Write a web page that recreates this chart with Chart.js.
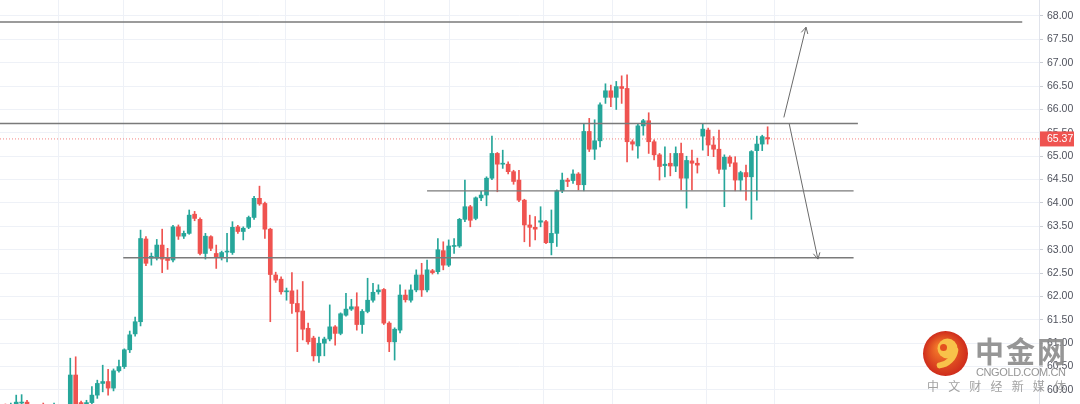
<!DOCTYPE html>
<html>
<head>
<meta charset="utf-8">
<script src="https://cdn.jsdelivr.net/npm/chart.js@4.4.1/dist/chart.umd.min.js"></script>
<style>
  html, body { margin: 0; padding: 0; background: #fff; }
  #wrap { width: 1080px; height: 404px; }
</style>
</head>
<body>
<div id="wrap"><canvas id="priceChart" width="1080" height="404"></canvas></div>
<script>
// candles, oldest first
const opens = [
  59.55, 59.62, 59.55, 59.62, 59.72, 59.74, 59.60, 59.45, 59.60, 59.50, 59.45, 59.60, 59.50, 59.60, 60.32, 59.73, 59.65, 59.73, 59.89, 60.14,
  60.18, 60.04, 60.41, 60.50, 60.86, 61.20, 61.46, 63.23, 62.82, 62.82, 63.10, 62.82, 62.78, 63.49, 63.29, 63.35, 63.76, 63.65, 62.92, 63.28,
  62.92, 62.84, 62.95, 62.94, 63.49, 63.39, 63.48, 63.69, 64.10, 63.99, 63.44, 62.46, 62.37, 62.10, 62.12, 61.85, 61.69, 61.32, 61.11, 60.73,
  61.00, 61.09, 61.35, 61.21, 61.60, 61.73, 61.78, 61.40, 61.68, 61.92, 62.10, 62.15, 61.43, 61.03, 61.28, 62.03, 61.92, 62.14, 62.46, 62.14,
  62.55, 62.53, 62.98, 62.67, 63.07, 63.08, 63.65, 63.92, 63.67, 64.11, 64.17, 64.53, 65.06, 64.83, 64.83, 64.67, 64.49, 64.06, 63.53, 63.48,
  63.59, 63.60, 63.15, 63.35, 64.26, 64.49, 64.48, 64.62, 64.39, 65.53, 65.15, 65.33, 66.26, 66.40, 66.26, 66.49, 66.45, 65.31, 65.22, 65.65,
  65.76, 65.31, 65.03, 64.80, 64.85, 64.79, 65.06, 64.53, 64.90, 64.85, 65.43, 65.56, 65.24, 65.15, 64.72, 64.98, 64.86, 64.49, 64.65, 64.56,
  65.12, 65.26, 65.40
];
const highs = [
  59.65, 59.70, 59.72, 59.89, 59.90, 59.78, 59.65, 59.60, 59.72, 59.62, 59.72, 59.68, 59.65, 60.68, 60.71, 59.76, 59.78, 60.07, 60.21, 60.53,
  60.44, 60.45, 60.64, 60.88, 61.26, 61.56, 63.42, 63.28, 62.93, 63.22, 63.44, 63.03, 63.52, 63.53, 63.40, 63.85, 63.82, 63.68, 63.35, 63.30,
  63.10, 62.97, 63.35, 63.60, 63.52, 63.49, 63.72, 64.14, 64.36, 64.02, 63.46, 62.52, 62.42, 62.18, 62.51, 62.14, 62.32, 61.43, 61.15, 61.13,
  61.13, 61.82, 61.38, 61.65, 62.07, 61.94, 62.08, 61.72, 62.39, 62.28, 62.25, 62.17, 61.46, 61.33, 62.25, 62.14, 62.25, 62.57, 62.71, 62.78,
  62.58, 63.24, 63.17, 63.21, 63.24, 63.67, 64.49, 63.95, 64.13, 64.25, 64.56, 65.43, 65.08, 65.13, 64.88, 64.70, 64.70, 64.08, 63.74, 63.71,
  63.92, 63.63, 63.85, 64.28, 64.64, 64.53, 64.71, 64.65, 65.70, 65.81, 65.78, 66.14, 66.55, 66.52, 66.60, 66.72, 66.74, 65.35, 65.68, 65.79,
  65.93, 65.35, 65.06, 65.20, 65.06, 65.20, 65.28, 65.00, 65.13, 64.96, 65.70, 65.60, 65.42, 65.56, 65.03, 65.01, 64.99, 64.68, 64.81, 65.12,
  65.43, 65.45, 65.63
];
const lows = [
  59.40, 59.45, 59.45, 59.50, 59.60, 59.50, 59.40, 59.30, 59.35, 59.30, 59.35, 59.40, 59.30, 59.50, 59.50, 59.50, 59.55, 59.65, 59.82, 59.96,
  59.89, 59.98, 60.38, 60.46, 60.80, 61.15, 61.37, 62.66, 62.67, 62.78, 62.51, 62.58, 62.74, 63.22, 63.24, 63.33, 63.62, 62.89, 62.80, 62.98,
  62.60, 62.78, 62.74, 62.90, 63.35, 63.21, 63.45, 63.65, 63.95, 63.24, 61.46, 62.30, 62.05, 61.92, 61.64, 60.82, 61.07, 60.98, 60.62, 60.59,
  60.73, 61.05, 60.96, 61.18, 61.58, 61.70, 61.28, 61.21, 61.65, 61.88, 62.05, 61.40, 60.82, 60.64, 61.22, 61.88, 61.88, 62.10, 62.00, 62.10,
  62.48, 62.48, 62.57, 62.64, 62.92, 63.05, 63.60, 63.49, 63.64, 64.05, 63.94, 64.50, 64.24, 64.74, 64.62, 64.40, 64.03, 63.17, 63.07, 63.21,
  63.49, 63.13, 62.89, 63.07, 64.22, 64.35, 64.42, 64.28, 64.26, 65.10, 64.93, 65.20, 66.13, 66.06, 66.00, 66.13, 64.88, 65.13, 64.96, 65.45,
  65.06, 64.92, 64.49, 64.56, 64.58, 64.67, 64.28, 63.89, 64.28, 64.64, 65.13, 65.01, 64.99, 64.63, 63.92, 64.78, 64.26, 64.26, 64.06, 63.65,
  64.06, 65.12, 65.26
];
const closes = [
  59.60, 59.50, 59.66, 59.74, 59.74, 59.60, 59.45, 59.50, 59.50, 59.40, 59.60, 59.50, 59.60, 60.32, 59.65, 59.60, 59.73, 59.89, 60.14, 60.18,
  60.04, 60.41, 60.50, 60.86, 61.18, 61.46, 63.24, 62.71, 62.86, 63.10, 62.80, 62.77, 63.49, 63.29, 63.35, 63.74, 63.67, 62.92, 63.29, 63.03,
  62.84, 62.94, 62.97, 63.48, 63.39, 63.46, 63.69, 64.10, 63.98, 63.44, 62.47, 62.35, 62.10, 62.12, 61.85, 61.67, 61.30, 61.03, 60.73, 61.00,
  61.09, 61.35, 61.21, 61.63, 61.73, 61.78, 61.40, 61.68, 61.92, 62.09, 62.14, 61.43, 61.03, 61.30, 62.03, 61.93, 62.14, 62.46, 62.14, 62.57,
  62.51, 63.00, 62.67, 63.08, 63.09, 63.65, 63.92, 63.63, 64.11, 64.17, 64.53, 65.06, 64.83, 64.85, 64.67, 64.46, 64.06, 63.53, 63.48, 63.44,
  63.62, 63.15, 63.35, 64.26, 64.49, 64.46, 64.62, 64.39, 65.53, 65.15, 65.33, 66.10, 66.40, 66.26, 66.49, 66.45, 65.31, 65.26, 65.65, 65.76,
  65.31, 65.03, 64.78, 64.83, 64.79, 65.06, 64.53, 64.91, 64.85, 64.81, 65.58, 65.24, 65.15, 64.72, 64.98, 64.85, 64.49, 64.65, 64.56, 65.10,
  65.26, 65.42, 65.37
];

// drawn support / resistance levels (price, first bar, last bar)
const levelPrices = [67.87, 65.70, 64.26, 62.83];
const levelFrom = [0, 0, 79.0, 22.8];
const levelTo = [189.1, 158.7, 157.9, 157.9];

// projection arrows, [bar, price] start -> end
const arrowUp = [[145.0, 65.83], [149.1, 67.76]];
const arrowDown = [[146.0, 65.69], [151.3, 62.80]];

const lastPrice = 65.37;
// day separators on the time axis (bar positions)
const timeDividers = [10.8, 22.8, 41.0, 52.8, 71.0, 83.0, 100.5, 113.3, 130.6, 143.2];

const UP = '#26a69a';
const DOWN = '#ef5350';
const GRID = '#eef1f7';
const X_MAX = 192.2;

const idx = opens.map((_, i) => i);
const candleColors = idx.map(i => closes[i] >= opens[i] ? UP : DOWN);
const wickData = idx.map(i => ({ x: i, y: [lows[i], highs[i]] }));
const bodyData = idx.map(i => ({ x: i, y: [Math.min(opens[i], closes[i]), Math.max(opens[i], closes[i])] }));

const levelSets = levelPrices.map((p, k) => ({
    type: 'line',
    data: [{ x: levelFrom[k], y: p }, { x: levelTo[k], y: p }],
    borderColor: '#7a7a7a',
    borderWidth: 1.4,
    pointRadius: 0,
    order: 0
}));

const arrowSets = [arrowUp, arrowDown].map(a => ({
    type: 'line',
    isArrow: true,
    data: a.map(p => ({ x: p[0], y: p[1] })),
    borderColor: '#6a6a6a',
    borderWidth: 1,
    pointRadius: 0,
    order: 0
}));

// vertical time separators, placed through the x scale
const timeGrid = {
    id: 'timeGrid',
    beforeDatasetsDraw(chart) {
        const ctx = chart.ctx;
        const xs = chart.scales.x;
        const area = chart.chartArea;
        ctx.save();
        ctx.strokeStyle = GRID;
        ctx.lineWidth = 1;
        ctx.beginPath();
        timeDividers.forEach(v => {
            const px = Math.round(xs.getPixelForValue(v)) + 0.5;
            ctx.moveTo(px, area.top);
            ctx.lineTo(px, area.bottom);
        });
        ctx.stroke();
        ctx.restore();
    }
};

// arrow heads at the end of each arrow line
const arrowHeads = {
    id: 'arrowHeads',
    afterDatasetsDraw(chart) {
        const ctx = chart.ctx;
        chart.data.datasets.forEach((ds, i) => {
            if (!ds.isArrow) return;
            const pts = chart.getDatasetMeta(i).data;
            const a = pts[pts.length - 2], b = pts[pts.length - 1];
            const ang = Math.atan2(b.y - a.y, b.x - a.x);
            ctx.save();
            ctx.strokeStyle = ds.borderColor;
            ctx.lineWidth = 1;
            ctx.beginPath();
            [-1, 1].forEach(s => {
                ctx.moveTo(b.x, b.y);
                ctx.lineTo(b.x - 7 * Math.cos(ang + s * 0.5), b.y - 7 * Math.sin(ang + s * 0.5));
            });
            ctx.stroke();
            ctx.restore();
        });
    }
};

function drawSpaced(ctx, text, xL, xR, y) {
    const chars = Array.from(text);
    const widths = chars.map(c => ctx.measureText(c).width);
    const total = widths.reduce((s, w) => s + w, 0);
    const gap = chars.length > 1 ? (xR - xL - total) / (chars.length - 1) : 0;
    let x = xL;
    chars.forEach((c, i) => {
        ctx.fillText(c, x, y);
        x += widths[i] + gap;
    });
}

// last price tag on the axis + site watermark
const overlay = {
    id: 'overlay',
    afterDraw(chart) {
        const ctx = chart.ctx;
        const yScale = chart.scales.y;
        const area = chart.chartArea;
        const py = yScale.getPixelForValue(lastPrice);

        ctx.save();
        ctx.fillStyle = DOWN;
        ctx.fillRect(area.right + 1, py - 7.5, 34, 15);
        ctx.fillStyle = '#fff';
        ctx.font = '10.5px "Liberation Sans", Arial, sans-serif';
        ctx.textBaseline = 'middle';
        ctx.fillText(lastPrice.toFixed(2), area.right + 8, py + 0.5);

        // logo
        const cx = 945.5, cy = 353.5, r = 22.5;
        const g = ctx.createRadialGradient(cx - 5, cy - 6, 3, cx, cy, r);
        g.addColorStop(0, '#f47a2a');
        g.addColorStop(1, '#cf2c1c');
        ctx.fillStyle = g;
        ctx.beginPath();
        ctx.arc(cx, cy, r, 0, Math.PI * 2);
        ctx.fill();
        ctx.fillStyle = '#f8c24a';
        ctx.beginPath();
        ctx.arc(cx + 2, cy - 5, 10, 0, Math.PI * 2);
        ctx.fill();
        ctx.strokeStyle = '#f8c24a';
        ctx.lineWidth = 6;
        ctx.lineCap = 'round';
        ctx.beginPath();
        ctx.arc(cx - 8, cy - 6, 18, 0.15, 1.45);
        ctx.stroke();
        ctx.fillStyle = '#e4511f';
        ctx.beginPath();
        ctx.arc(cx - 2, cy - 6, 3.5, 0, Math.PI * 2);
        ctx.fill();

        ctx.globalAlpha = 0.92;
        ctx.fillStyle = '#8d8d8d';
        ctx.textBaseline = 'middle';
        ctx.font = 'bold 29px "Noto Sans CJK SC", sans-serif';
        drawSpaced(ctx, '中金网', 975, 1066, 352);
        ctx.font = '11px "Liberation Sans", Arial, sans-serif';
        drawSpaced(ctx, 'CNGOLD.COM.CN', 976, 1066, 373);
        ctx.fillStyle = '#999';
        ctx.font = '12px "Noto Sans CJK SC", sans-serif';
        drawSpaced(ctx, '中文财经新媒体', 927, 1066, 386.5);
        ctx.restore();
    }
};

new Chart(document.getElementById('priceChart'), {
    type: 'bar',
    data: {
        datasets: [
            {
                type: 'line',
                data: [{ x: 0, y: lastPrice }, { x: X_MAX, y: lastPrice }],
                borderColor: 'rgba(239,83,80,0.7)',
                borderWidth: 1,
                borderDash: [1, 2],
                pointRadius: 0,
                order: 3
            },
            {
                data: wickData,
                backgroundColor: candleColors,
                barThickness: 1,
                grouped: false,
                order: 2
            },
            {
                data: bodyData,
                backgroundColor: candleColors,
                barThickness: 4,
                minBarLength: 1,
                grouped: false,
                order: 1
            },
            ...levelSets,
            ...arrowSets
        ]
    },
    options: {
        responsive: false,
        animation: false,
        layout: { padding: 0 },
        plugins: { legend: { display: false }, tooltip: { enabled: false } },
        scales: {
            x: {
                type: 'linear',
                min: 0,
                max: X_MAX,
                offset: false,
                grid: { display: false, drawTicks: false },
                border: { display: false },
                ticks: { display: false },
                afterFit: s => { s.height = 0; s.paddingLeft = 0; s.paddingRight = 0; }
            },
            y: {
                position: 'right',
                min: 59.70,
                max: 68.342,
                grid: { color: GRID, tickColor: '#c9ccd3', tickLength: 4 },
                border: { color: '#e0e3eb' },
                ticks: {
                    stepSize: 0.5,
                    includeBounds: false,
                    padding: 4,
                    color: '#50535e',
                    font: { size: 10.5, family: '"Liberation Sans", Arial, sans-serif' },
                    callback: v => v.toFixed(2)
                },
                afterFit: s => { s.width = 41; s.paddingTop = 0; s.paddingBottom = 0; }
            }
        }
    },
    plugins: [timeGrid, arrowHeads, overlay]
});
</script>
</body>
</html>
